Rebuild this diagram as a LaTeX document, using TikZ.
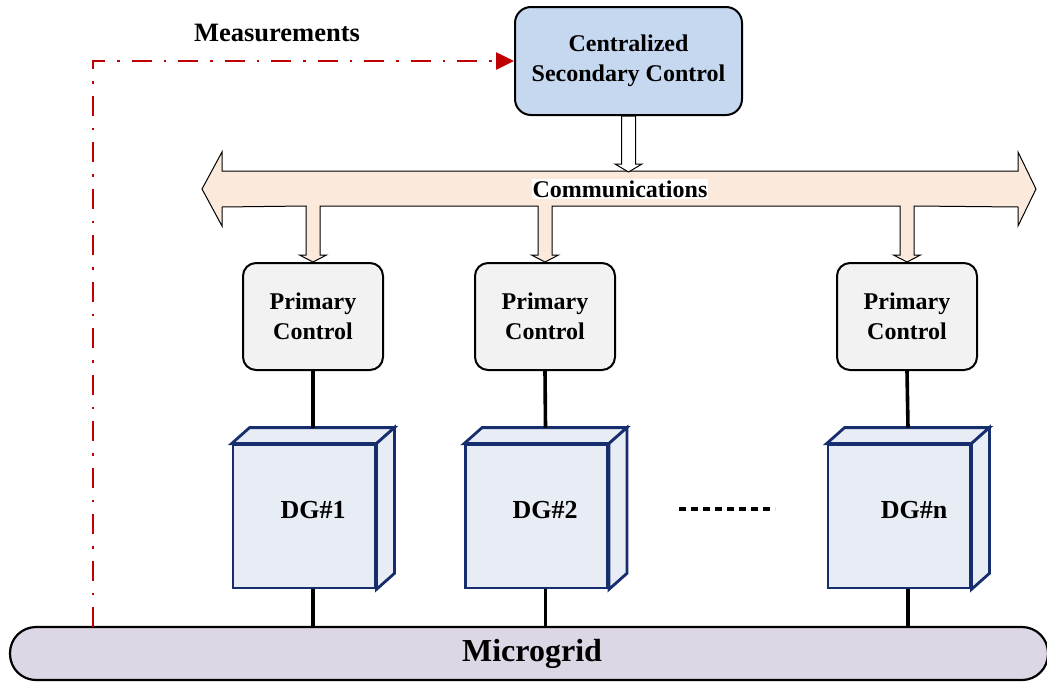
\documentclass[tikz,border=0pt]{standalone}
\usepackage{fontspec}
\setmainfont{Liberation Serif}
\usetikzlibrary{arrows.meta,calc}

\definecolor{secblue}{RGB}{197,216,240}
\definecolor{commpeach}{RGB}{251,233,220}
\definecolor{primgray}{RGB}{242,242,242}
\definecolor{cubefill}{RGB}{232,236,244}
\definecolor{cubeedge}{RGB}{22,46,110}
\definecolor{gridfill}{RGB}{221,215,229}
\definecolor{measred}{RGB}{192,0,0}

\tikzset{
  lbl/.style={font=\bfseries\fontsize{24}{30}\selectfont, align=center, text=black},
  secbox/.style={draw=black, line width=2pt, rounded corners=16pt, fill=secblue,
    minimum width=227pt, minimum height=108pt, inner sep=0pt, lbl},
  primbox/.style={draw=black, line width=2pt, rounded corners=13pt, fill=primgray,
    minimum width=140pt, minimum height=107pt, inner sep=0pt, lbl},
  cubeface/.style={draw=cubeedge, line width=2.8pt, fill=cubefill, line join=miter},
  cubefront/.style={cubeface, minimum width=142pt, minimum height=143pt, inner sep=0pt},
  gridbar/.style={draw=black, line width=2.2pt, rounded corners=26pt, fill=gridfill,
    minimum width=1038pt, minimum height=53pt, inner sep=0pt},
  commshape/.style={draw=black, line width=1pt, fill=commpeach, line join=miter},
  hollowarrow/.style={draw=black, line width=1pt, fill=white, line join=miter},
  link/.style={draw=black, line width=3.6pt},
  dglbl/.style={font=\bfseries\fontsize{26}{30}\selectfont},
  meas/.style={draw=measred, line width=2.6pt,
    dash pattern=on 20pt off 12pt on 2.5pt off 12pt,
    -{Triangle[length=18pt,width=17pt]}},
}

\begin{document}
\begin{tikzpicture}[x=1pt,y=-1pt]
\useasboundingbox (0,0) rectangle (1047,683);

% supervisory layer
\node[secbox] (csc) at (628.5,61) {Centralized\\Secondary Control};

% local controllers
\node[primbox] (p1) at (313,316.5) {Primary\\Control};
\node[primbox] (p2) at (545,316.5) {Primary\\Control};
\node[primbox] (p3) at (907,316.5) {Primary\\Control};

% communication bus with its drops to each controller
\path[commshape]
  (202,189) -- (222,152) -- (222,171) -- (1018,171) -- (1018,152)
  -- (1036,189) -- (1018,226) -- (1018,207)
  -- ($(p3.north)+(7,-56)$) -- ($(p3.north)+(7,-7)$) -- ($(p3.north)+(13.5,-7)$)
  -- (p3.north) -- ($(p3.north)+(-13.5,-7)$) -- ($(p3.north)+(-7,-7)$)
  -- ($(p3.north)+(-7,-56)$)
  -- ($(p2.north)+(7,-56)$) -- ($(p2.north)+(7,-7)$) -- ($(p2.north)+(13.5,-7)$)
  -- (p2.north) -- ($(p2.north)+(-13.5,-7)$) -- ($(p2.north)+(-7,-7)$)
  -- ($(p2.north)+(-7,-56)$)
  -- ($(p1.north)+(7,-56)$) -- ($(p1.north)+(7,-7)$) -- ($(p1.north)+(13.5,-7)$)
  -- (p1.north) -- ($(p1.north)+(-13.5,-7)$) -- ($(p1.north)+(-7,-7)$)
  -- ($(p1.north)+(-7,-56)$)
  -- (222,207) -- (222,226) -- cycle;
\node[font=\bfseries\fontsize{24}{28}\selectfont, fill=white, inner xsep=1pt, inner ysep=2pt]
  (comm) at (620,189) {Communications};

% command arrow from the secondary controller onto the bus
\path[hollowarrow]
  ($(csc.south)+(-7,0)$) -- ($(csc.south)+(-7,48)$) -- ($(csc.south)+(-13.5,48)$)
  -- ($(csc.south)+(0,56)$) -- ($(csc.south)+(13.5,48)$) -- ($(csc.south)+(7,48)$)
  -- ($(csc.south)+(7,0)$) -- cycle;

% distributed generators drawn as boxes with depth
\foreach \i/\cx in {1/304, 2/536.5, 3/899} {
  \node[cubefront] (dg\i) at (\cx,516.5) {};
  \path[cubeface] (dg\i.north west) -- ++(18,-16) -- ($(dg\i.north east)+(18,-16)$)
    -- (dg\i.north east) -- cycle;
  \path[cubeface] (dg\i.north east) -- ++(18,-16) -- ($(dg\i.south east)+(18,-16)$)
    -- (dg\i.south east) -- cycle;
  \coordinate (dg\i top) at ($(dg\i.north)+(9,-16)$);
  \coordinate (dg\i bot) at ($(dg\i.south)+(9,0)$);
}
\node[dglbl] (dg1t) at (313,510) {DG\#1};
\node[dglbl] (dg2t) at (545,510) {DG\#2};
\node[dglbl] (dg3t) at (914,510) {DG\#n};

% ellipsis between the second and the last generator
\coordinate (dotsA) at (679,509);
\coordinate (dotsB) at (775,509);
\draw[line width=4.5pt, dash pattern=on 7pt off 5pt] (dotsA) -- (dotsB);

% microgrid bus
\node[gridbar] (mg) at (529,653.5) {};
\node[font=\bfseries\fontsize{32}{36}\selectfont] (mgt) at (532,654) {Microgrid};

% vertical links
\draw[link] (p1.south) -- (dg1top);
\draw[link] (p2.south) -- (dg2top);
\draw[link] (p3.south) -- (dg3top);
\draw[link] (dg1bot) -- (dg1bot |- mg.north);
\draw[link] (dg2bot) -- (dg2bot |- mg.north);
\draw[link] (dg3bot) -- (dg3bot |- mg.north);

% measurement feedback
\coordinate (measstart) at (93,627);
\draw[meas] (measstart) |- (csc.west);
\node[font=\bfseries\fontsize{26.5}{30}\selectfont] (measlbl) at (277,33) {Measurements};
\end{tikzpicture}
\end{document}
